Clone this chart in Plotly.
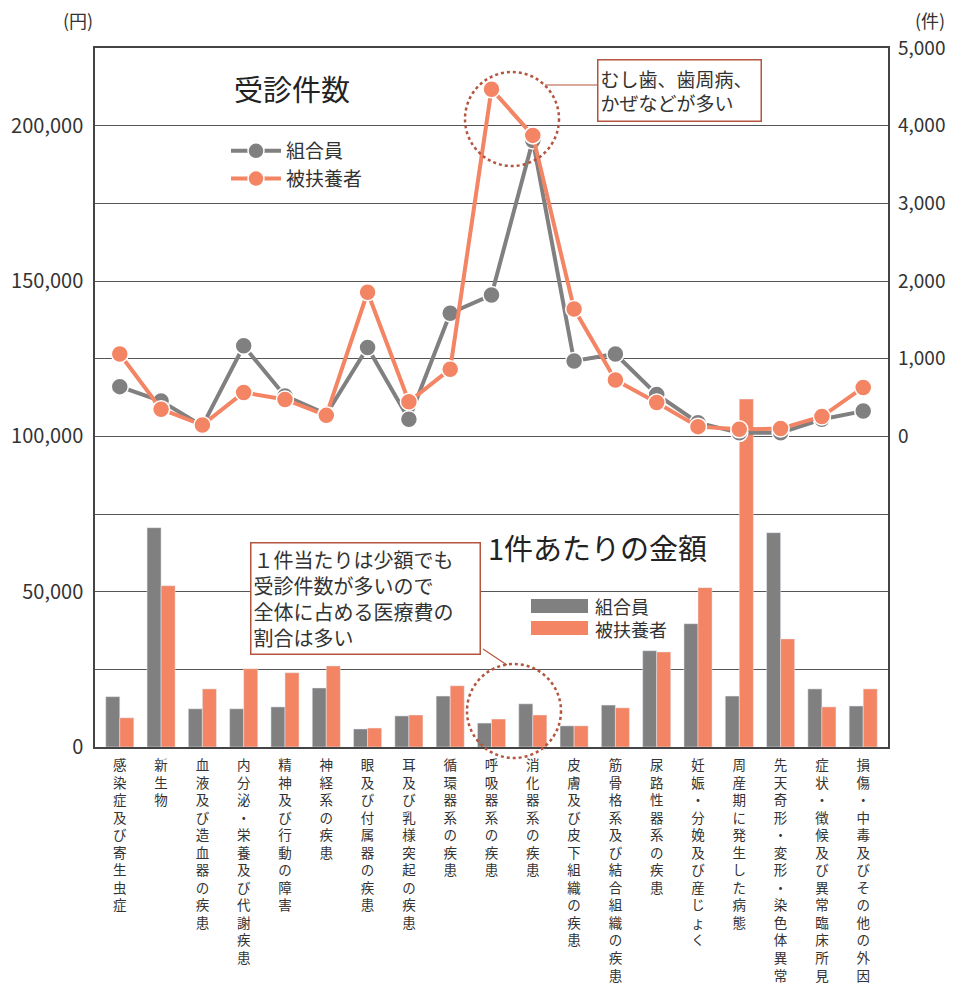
import plotly.graph_objects as go

# ---------------- data ----------------
categories = [
    "感染症及び寄生虫症", "新生物", "血液及び造血器の疾患", "内分泌・栄養及び代謝疾患",
    "精神及び行動の障害", "神経系の疾患", "眼及び付属器の疾患", "耳及び乳様突起の疾患",
    "循環器系の疾患", "呼吸器系の疾患", "消化器系の疾患", "皮膚及び皮下組織の疾患",
    "筋骨格系及び結合組織の疾患", "尿路性器系の疾患", "妊娠・分娩及び産じょく",
    "周産期に発生した病態", "先天奇形・変形・染色体異常", "症状・徴候及び異常臨床所見",
    "損傷・中毒及びその他の外因",
]
# 1件あたりの金額 (円) - left axis
members_cost = [16200, 70600, 12300, 12300, 12900, 19000, 5800, 10000, 16400, 7700,
                13900, 6800, 13500, 31000, 39700, 16400, 69000, 18700, 13200]
dependents_cost = [9400, 51900, 18700, 25200, 23900, 26100, 6100, 10300, 19700, 9000,
                   10300, 6800, 12600, 30600, 51300, 112000, 34800, 12900, 18700]
# 受診件数 (件) - right axis
members_visits = [640, 455, 135, 1165, 520, 285, 1145, 220, 1585, 1820,
                  3810, 970, 1060, 540, 175, 45, 45, 220, 325]
dependents_visits = [1060, 350, 145, 565, 475, 270, 1855, 445, 865, 4470,
                     3875, 1640, 725, 435, 125, 90, 100, 255, 630]

left_ticks = [0, 25000, 50000, 75000, 100000, 125000, 150000, 175000, 200000]
right_ticks = [0, 1000, 2000, 3000, 4000, 5000]

GRAY = "#808080"
ORANGE = "#F38464"
BROWN = "#B4553F"
TXT = "#333333"
FONT = "Noto Sans CJK JP"

# ---------------- layout helpers ----------------
# the page body has an 8px margin, so the figure starts at screen (8, 8)
OFF = 8
W, H = 953 - OFF, 983 - OFF
# plot area in screen pixels
SL, SR, ST, SB = 95, 888, 48, 747
L, R, T, B = SL - OFF, SR - OFF, ST - OFF, SB - OFF


def px(x):
    return (x - SL) / (SR - SL)


def py(y):
    return (SB - y) / (SB - ST)


fig = go.Figure()

fig.add_trace(go.Bar(x=categories, y=members_cost, name="組合員", marker_color=GRAY,
                     showlegend=False, yaxis="y"))
fig.add_trace(go.Bar(x=categories, y=dependents_cost, name="被扶養者", marker_color=ORANGE,
                     showlegend=False, yaxis="y"))

fig.add_trace(go.Scatter(x=categories, y=members_visits, name="組合員", mode="lines+markers",
                         line=dict(color=GRAY, width=4),
                         marker=dict(color=GRAY, size=17, line=dict(color="white", width=1.5)),
                         yaxis="y2"))
fig.add_trace(go.Scatter(x=categories, y=dependents_visits, name="被扶養者", mode="lines+markers",
                         line=dict(color=ORANGE, width=4),
                         marker=dict(color=ORANGE, size=17, line=dict(color="white", width=1.5)),
                         yaxis="y2"))

vertical_labels = ["<br>".join(list(c)) for c in categories]

shapes = []
annotations = []

# dotted circles
for cx, cy, r in [(512, 119, 47), (514, 711, 47)]:
    shapes.append(dict(type="circle", xref="paper", yref="paper",
                       x0=px(cx - r), x1=px(cx + r), y0=py(cy + r), y1=py(cy - r),
                       line=dict(color=BROWN, width=2.5, dash="dot"), layer="above"))
# connector lines
shapes.append(dict(type="line", xref="paper", yref="paper", x0=px(545), y0=py(85),
                   x1=px(597), y1=py(85), line=dict(color=BROWN, width=1.2)))
shapes.append(dict(type="line", xref="paper", yref="paper", x0=px(483), y0=py(649),
                   x1=px(507), y1=py(665), line=dict(color=BROWN, width=1.2)))

# bar legend (manual)
shapes.append(dict(type="rect", xref="paper", yref="paper", x0=px(531), x1=px(588),
                   y0=py(613), y1=py(599), fillcolor=GRAY, line=dict(width=0)))
shapes.append(dict(type="rect", xref="paper", yref="paper", x0=px(531), x1=px(588),
                   y0=py(635), y1=py(621), fillcolor=ORANGE, line=dict(width=0)))
annotations.append(dict(text="組合員<br>被扶養者", xref="paper", yref="paper", x=px(593), y=py(617),
                        xanchor="left", yanchor="middle", showarrow=False, align="left",
                        font=dict(size=18, color=TXT, family=FONT)))

# titles
annotations.append(dict(text="受診件数", xref="paper", yref="paper", x=px(232), y=py(88),
                        xanchor="left", yanchor="middle", showarrow=False,
                        font=dict(size=29, color="#222", family=FONT)))
annotations.append(dict(text="1件あたりの金額", xref="paper", yref="paper", x=px(486), y=py(547),
                        xanchor="left", yanchor="middle", showarrow=False,
                        font=dict(size=29, color="#222", family=FONT)))

# units
annotations.append(dict(text="(円)", xref="paper", yref="paper", x=px(78), y=py(20),
                        xanchor="center", yanchor="middle", showarrow=False,
                        font=dict(size=18, color=TXT, family=FONT)))
annotations.append(dict(text="(件)", xref="paper", yref="paper", x=px(930), y=py(20),
                        xanchor="center", yanchor="middle", showarrow=False,
                        font=dict(size=18, color=TXT, family=FONT)))

# callout boxes
annotations.append(dict(text="むし歯、歯周病、<br>かぜなどが多い", xref="paper", yref="paper",
                        x=px(597), y=py(59), xanchor="left", yanchor="top", showarrow=False,
                        align="left", width=158, height=56, borderpad=2,
                        bordercolor=BROWN, borderwidth=1.5, bgcolor="white",
                        font=dict(size=19, color=TXT, family=FONT)))
annotations.append(dict(text="１件当たりは少額でも<br>受診件数が多いので<br>全体に占める医療費の<br>割合は多い",
                        xref="paper", yref="paper",
                        x=px(250), y=py(542), xanchor="left", yanchor="top", showarrow=False,
                        align="left", width=224, height=106, borderpad=2,
                        bordercolor=BROWN, borderwidth=1.5, bgcolor="white",
                        font=dict(size=20, color=TXT, family=FONT)))

fig.update_layout(
    width=W, height=H, autosize=False,
    margin=dict(l=L, r=W - R, t=T, b=H - B, pad=0, autoexpand=False),
    paper_bgcolor="white", plot_bgcolor="white",
    font=dict(family=FONT, color=TXT),
    barmode="group", bargap=0.32, bargroupgap=0,
    xaxis=dict(range=[-0.6, 18.6], tickmode="array", tickvals=categories, ticktext=vertical_labels,
               tickfont=dict(size=13.5, color=TXT, family=FONT), tickangle=0, automargin=False,
               showline=True, linecolor="#444", linewidth=1.5, mirror=True,
               showgrid=False, ticks="", ticklabelstandoff=5),
    yaxis=dict(range=[0, 225000], tickmode="array", tickvals=left_ticks,
               ticktext=[f"{v:,}" if v % 50000 == 0 else "" for v in left_ticks],
               tickfont=dict(size=20, color=TXT, family=FONT), automargin=False,
               showline=True, linecolor="#444", linewidth=1.5, mirror=True,
               showgrid=True, gridcolor="#555", gridwidth=1.2, zeroline=False,
               ticks="", ticklabelstandoff=6),
    yaxis2=dict(range=[-4000, 5000], overlaying="y", side="right", tickmode="array",
                tickvals=right_ticks, ticktext=[f"{v:,}" for v in right_ticks],
                tickfont=dict(size=19, color=TXT, family=FONT), automargin=False,
                showgrid=False, zeroline=False, showline=False, ticks="",
                ticklabelstandoff=9),
    legend=dict(x=px(226), y=py(132), xanchor="left", yanchor="top",
                font=dict(size=19, color=TXT, family=FONT), bgcolor="rgba(0,0,0,0)",
                tracegroupgap=0, itemwidth=50),
    shapes=shapes, annotations=annotations,
)

fig.write_html("out.html")
